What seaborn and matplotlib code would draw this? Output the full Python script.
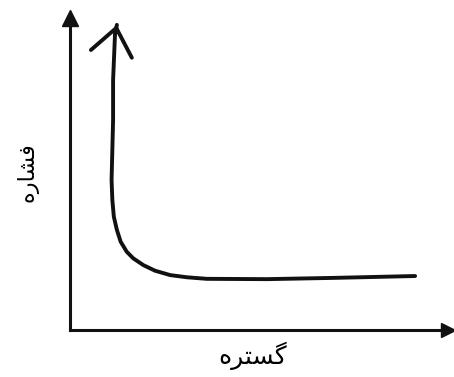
import matplotlib
matplotlib.use("Agg")
import matplotlib.pyplot as plt
import seaborn as sns

# curve (arbitrary units, 0-100 on both axes)
range_vals = [12.4, 11.9, 11.4, 11.4, 11.0, 11.2, 11.6, 12.4, 13.4, 15.0, 16.7,
              19.4, 22.5, 26.5, 30.9, 36.2, 52.1, 69.6, 91.3]
pressure_vals = [97.8, 94.6, 80.1, 67.3, 48.1, 41.7, 36.3, 32.1, 28.3, 25.1, 23.0,
                 20.8, 19.0, 17.6, 16.9, 16.4, 16.3, 16.7, 17.3]

x_label = "گستره"
y_label = "فشاره"

# simple arabic shaping (matplotlib has no text shaping)
FORMS = {
    "گ": ("\uFB92", "\uFB93", "\uFB94", "\uFB95"),
    "س": ("\uFEB1", "\uFEB2", "\uFEB3", "\uFEB4"),
    "ت": ("\uFE95", "\uFE96", "\uFE97", "\uFE98"),
    "ه": ("\uFEE9", "\uFEEA", "\uFEEB", "\uFEEC"),
    "ف": ("\uFED1", "\uFED2", "\uFED3", "\uFED4"),
    "ش": ("\uFEB5", "\uFEB6", "\uFEB7", "\uFEB8"),
    "ر": ("\uFEAD", "\uFEAE", None, None),
    "ا": ("\uFE8D", "\uFE8E", None, None),
}


def shape(word):
    out = []
    for i, ch in enumerate(word):
        iso, fin, ini, med = FORMS[ch]
        prev_joins = i > 0 and FORMS[word[i - 1]][2] is not None
        next_joins = ini is not None and i < len(word) - 1
        if prev_joins and next_joins:
            out.append(med)
        elif prev_joins:
            out.append(fin)
        elif next_joins:
            out.append(ini)
        else:
            out.append(iso)
    return "".join(reversed(out))


sns.set_style("white")
plt.rcParams["font.family"] = ["DejaVu Sans"]

fig = plt.figure(figsize=(4.54, 3.77), dpi=100)
ax = fig.add_axes([70 / 454, 47 / 377, 378 / 454, 312 / 377])

sns.lineplot(x=range_vals, y=pressure_vals, sort=False, estimator=None,
             color="#111111", linewidth=2.8, ax=ax)
ax.annotate("", xy=(range_vals[0], pressure_vals[0]),
            xytext=(range_vals[1], pressure_vals[1]),
            arrowprops=dict(arrowstyle="->,head_length=1.9,head_width=1.5",
                            color="#111111", lw=2.8, shrinkA=0, shrinkB=0))

ax.set_xlim(0, 100)
ax.set_ylim(0, 100)
ax.set_xticks([])
ax.set_yticks([])
sns.despine(ax=ax, top=True, right=True)
for side in ["left", "bottom"]:
    ax.spines[side].set_color("#111111")
    ax.spines[side].set_linewidth(2.2)

# arrow heads on the axes
ax.plot(1, 0, ">", color="#111111", markersize=10, transform=ax.transAxes, clip_on=False)
ax.plot(0, 1, "^", color="#111111", markersize=11, transform=ax.transAxes, clip_on=False)

ax.set_xlabel(shape(x_label), fontsize=18, va="center", color="black")
ax.set_ylabel(shape(y_label), fontsize=16, va="center", color="black")
ax.xaxis.set_label_coords((253 - 70) / 378, (330 - 356) / 312)
ax.yaxis.set_label_coords((28 - 70) / 378, (330 - 172) / 312)

fig.savefig("out.png", dpi=100)
